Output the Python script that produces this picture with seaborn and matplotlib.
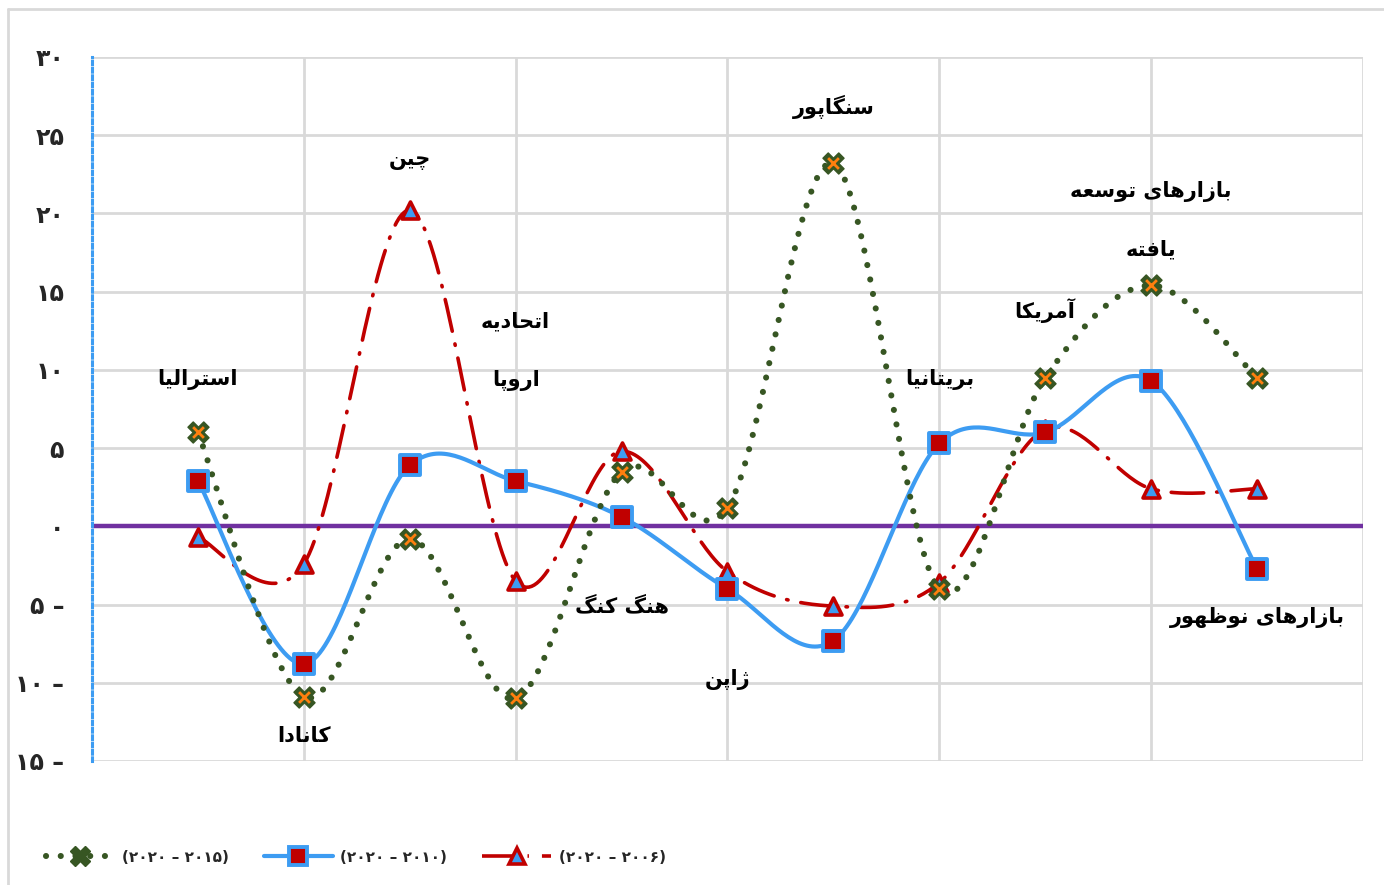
import numpy as np
import pandas as pd
import matplotlib
matplotlib.use("Agg")
import matplotlib.pyplot as plt
from matplotlib.lines import Line2D
import seaborn as sns

# ---------------- data ----------------
categories = ['استرالیا', 'کانادا', 'چین', 'اتحادیه اروپا', 'هنگ کنگ', 'ژاپن',
              'سنگاپور', 'بریتانیا', 'آمریکا', 'بازارهای توسعه یافته', 'بازارهای نوظهور']
growth_2015_2020 = [6.0, -10.9, -0.8, -11.0, 3.5, 1.2, 23.2, -4.0, 9.5, 15.4, 9.5]
growth_2010_2020 = [2.9, -8.8, 3.9, 2.9, 0.6, -4.0, -7.3, 5.3, 6.0, 9.3, -2.7]
growth_2006_2020 = [-0.7, -2.4, 20.2, -3.5, 4.8, -2.9, -5.1, -3.6, 6.2, 2.4, 2.4]
series_names = ['(۲۰۲۰ – ۲۰۱۵)', '(۲۰۲۰ – ۲۰۱۰)', '(۲۰۲۰ – ۲۰۰۶)']
y_ticks = [-15, -10, -5, 0, 5, 10, 15, 20, 25, 30]

# category label lines and their vertical placement
label_lines = [['استرالیا'], ['کانادا'], ['چین'], ['اتحادیه', 'اروپا'], ['هنگ کنگ'], ['ژاپن'],
               ['سنگاپور'], ['بریتانیا'], ['آمریکا'], ['بازارهای توسعه', 'یافته'], ['بازارهای نوظهور']]
label_y = [[9.4], [-13.4], [23.4], [13.1, 9.3], [-5.1], [-9.8],
           [26.8], [9.4], [13.8], [21.4, 17.7], [-5.8]]

# ---------------- Persian text shaping ----------------
FORMS = {
    'ا': ('\uFE8D', '\uFE8E', None, None), 'آ': ('\uFE81', '\uFE82', None, None),
    'د': ('\uFEA9', '\uFEAA', None, None), 'ذ': ('\uFEAB', '\uFEAC', None, None),
    'ر': ('\uFEAD', '\uFEAE', None, None), 'ز': ('\uFEAF', '\uFEB0', None, None),
    'ژ': ('\uFB8A', '\uFB8B', None, None), 'و': ('\uFEED', '\uFEEE', None, None),
    'ب': ('\uFE8F', '\uFE90', '\uFE91', '\uFE92'), 'پ': ('\uFB56', '\uFB57', '\uFB58', '\uFB59'),
    'ت': ('\uFE95', '\uFE96', '\uFE97', '\uFE98'), 'ث': ('\uFE99', '\uFE9A', '\uFE9B', '\uFE9C'),
    'ج': ('\uFE9D', '\uFE9E', '\uFE9F', '\uFEA0'), 'چ': ('\uFB7A', '\uFB7B', '\uFB7C', '\uFB7D'),
    'ح': ('\uFEA1', '\uFEA2', '\uFEA3', '\uFEA4'), 'خ': ('\uFEA5', '\uFEA6', '\uFEA7', '\uFEA8'),
    'س': ('\uFEB1', '\uFEB2', '\uFEB3', '\uFEB4'), 'ش': ('\uFEB5', '\uFEB6', '\uFEB7', '\uFEB8'),
    'ص': ('\uFEB9', '\uFEBA', '\uFEBB', '\uFEBC'), 'ض': ('\uFEBD', '\uFEBE', '\uFEBF', '\uFEC0'),
    'ط': ('\uFEC1', '\uFEC2', '\uFEC3', '\uFEC4'), 'ظ': ('\uFEC5', '\uFEC6', '\uFEC7', '\uFEC8'),
    'ع': ('\uFEC9', '\uFECA', '\uFECB', '\uFECC'), 'غ': ('\uFECD', '\uFECE', '\uFECF', '\uFED0'),
    'ف': ('\uFED1', '\uFED2', '\uFED3', '\uFED4'), 'ق': ('\uFED5', '\uFED6', '\uFED7', '\uFED8'),
    'ک': ('\uFB8E', '\uFB8F', '\uFB90', '\uFB91'), 'گ': ('\uFB92', '\uFB93', '\uFB94', '\uFB95'),
    'ل': ('\uFEDD', '\uFEDE', '\uFEDF', '\uFEE0'), 'م': ('\uFEE1', '\uFEE2', '\uFEE3', '\uFEE4'),
    'ن': ('\uFEE5', '\uFEE6', '\uFEE7', '\uFEE8'), 'ه': ('\uFEE9', '\uFEEA', '\uFEEB', '\uFEEC'),
    'ی': ('\uFBFC', '\uFBFD', '\uFBFE', '\uFBFF'),
}


def shape_fa(text):
    """Contextual letter forms + visual (right-to-left) order."""
    out = []
    n = len(text)
    for i, ch in enumerate(text):
        f = FORMS.get(ch)
        if f is None:
            out.append(ch)
            continue
        prev = text[i - 1] if i > 0 else None
        nxt = text[i + 1] if i < n - 1 else None
        join_prev = prev in FORMS and FORMS[prev][2] is not None
        join_next = f[2] is not None and nxt in FORMS
        if join_prev and join_next:
            out.append(f[3])
        elif join_prev:
            out.append(f[1])
        elif join_next:
            out.append(f[2])
        else:
            out.append(f[0])
    return ''.join(out)[::-1]


FA_DIGITS = str.maketrans('0123456789', '۰۱۲۳۴۵۶۷۸۹')


def fa_tick(v):
    s = str(abs(int(v))).translate(FA_DIGITS)
    return s + ' –' if v < 0 else s


def smooth(xs, ys, n=40):
    """Cubic Bezier smoothing through every point (Catmull-Rom tangents)."""
    pts = np.column_stack([xs, ys]).astype(float)
    p = np.vstack([pts[0], pts, pts[-1]])
    t = np.linspace(0, 1, n, endpoint=False)[:, None]
    segs = []
    for i in range(1, len(p) - 2):
        p0, p1, p2, p3 = p[i - 1], p[i], p[i + 1], p[i + 2]
        c1 = p1 + (p2 - p0) / 6
        c2 = p2 - (p3 - p1) / 6
        segs.append((1 - t) ** 3 * p1 + 3 * (1 - t) ** 2 * t * c1 + 3 * (1 - t) * t ** 2 * c2 + t ** 3 * p2)
    segs.append(p[-2][None])
    c = np.vstack(segs)
    return pd.DataFrame({'x': c[:, 0], 'y': c[:, 1]})


# ---------------- styling ----------------
sns.set_theme(style='white')
plt.rcParams['font.family'] = ['DejaVu Sans']
plt.rcParams['font.weight'] = 'bold'

GREEN = '#375623'
ORANGE = '#ff7f0e'
BLUE = '#3d9cf2'
RED = '#c00000'
PURPLE = '#7030a0'
GRID = '#d9d9d9'

GREEN_DASH = (0.01, 2.4)
RED_DASH = (9, 3.6, 0.4, 3.6)

fig = plt.figure(figsize=(13.84, 8.85), dpi=100)
ax = fig.add_axes([92 / 1384, 1 - 761 / 885, (1363 - 92) / 1384, (761 - 57) / 885])

xpos = np.arange(1, len(categories) + 1)

# gridlines
for yv in y_ticks:
    ax.axhline(yv, color=GRID, lw=2, zorder=0)
for xv in range(2, 13, 2):
    ax.axvline(xv, color=GRID, lw=2, zorder=0)
ax.axhline(0, color=PURPLE, lw=3.2, zorder=1)

# series 3 : 2006-2020, red dash-dot
c3 = smooth(xpos, growth_2006_2020)
sns.lineplot(data=c3, x='x', y='y', sort=False, estimator=None, ax=ax, color=RED, lw=2.6, zorder=2)
l3 = ax.lines[-1]
l3.set_dashes(RED_DASH)
l3.set_dash_capstyle('round')

# series 2 : 2010-2020, blue solid
c2 = smooth(xpos, growth_2010_2020)
sns.lineplot(data=c2, x='x', y='y', sort=False, estimator=None, ax=ax, color=BLUE, lw=3.0, zorder=3)
ax.lines[-1].set_solid_capstyle('round')

# series 1 : 2015-2020, green round dots
c1 = smooth(xpos, growth_2015_2020)
sns.lineplot(data=c1, x='x', y='y', sort=False, estimator=None, ax=ax, color=GREEN, lw=4.4, zorder=4)
l1 = ax.lines[-1]
l1.set_dashes(GREEN_DASH)
l1.set_dash_capstyle('round')

# markers
sns.scatterplot(x=xpos, y=growth_2006_2020, ax=ax, marker='^', s=150, color=BLUE,
                edgecolor=RED, linewidth=2.6, zorder=5)
sns.scatterplot(x=xpos, y=growth_2010_2020, ax=ax, marker='s', s=190, color=RED,
                edgecolor=BLUE, linewidth=2.8, zorder=6)
sns.scatterplot(x=xpos, y=growth_2015_2020, ax=ax, marker='X', s=230, color=GREEN,
                edgecolor=GREEN, linewidth=1, zorder=7)
sns.scatterplot(x=xpos, y=growth_2015_2020, ax=ax, marker='x', s=60, color=ORANGE,
                linewidth=2, zorder=8)

# category labels
for xv, lines, ys in zip(xpos, label_lines, label_y):
    for txt, yv in zip(lines, ys):
        ax.text(xv, yv, shape_fa(txt), ha='center', va='center', fontsize=15,
                fontweight='bold', color='black', zorder=9)

# axes
ax.set_xlim(0, 12)
ax.set_ylim(-15, 30)
ax.set_xticks([])
ax.set_yticks(y_ticks)
ax.set_yticklabels([fa_tick(v) for v in y_ticks], fontsize=17, fontweight='bold')
ax.tick_params(axis='y', length=0, pad=20)
ax.set_xlabel('')
ax.set_ylabel('')
for side in ['top', 'right', 'bottom']:
    ax.spines[side].set_visible(False)
ax.spines['left'].set_color(BLUE)
ax.spines['left'].set_linewidth(2.2)
ax.spines['left'].set_linestyle((0, (1.2, 1.2)))
if ax.get_legend():
    ax.get_legend().remove()

# legend
handles = [
    Line2D([], [], color=GREEN, lw=4.4, dashes=GREEN_DASH, dash_capstyle='round',
           marker='X', markersize=14, markerfacecolor=GREEN, markeredgecolor=GREEN),
    Line2D([], [], color=BLUE, lw=3.0, marker='s', markersize=13,
           markerfacecolor=RED, markeredgecolor=BLUE, markeredgewidth=2.8),
    Line2D([], [], color=RED, lw=2.6, dashes=RED_DASH, marker='^', markersize=11,
           markerfacecolor=BLUE, markeredgecolor=RED, markeredgewidth=2.6),
]
fig.legend(handles, series_names, loc='center left', bbox_to_anchor=(0.033, 1 - 857 / 885),
           ncol=3, frameon=False, handlelength=4.5, columnspacing=2.3,
           handletextpad=0.5, borderaxespad=0, borderpad=0,
           prop={'weight': 'bold', 'size': 11})

# outer chart border
fig.add_artist(Line2D([8 / 1384, 8 / 1384], [1 - 9 / 885, 0], transform=fig.transFigure,
                      color=GRID, lw=2))
fig.add_artist(Line2D([8 / 1384, 1], [1 - 9 / 885, 1 - 9 / 885], transform=fig.transFigure,
                      color=GRID, lw=2))

fig.savefig('out.png', dpi=100, facecolor='white')
